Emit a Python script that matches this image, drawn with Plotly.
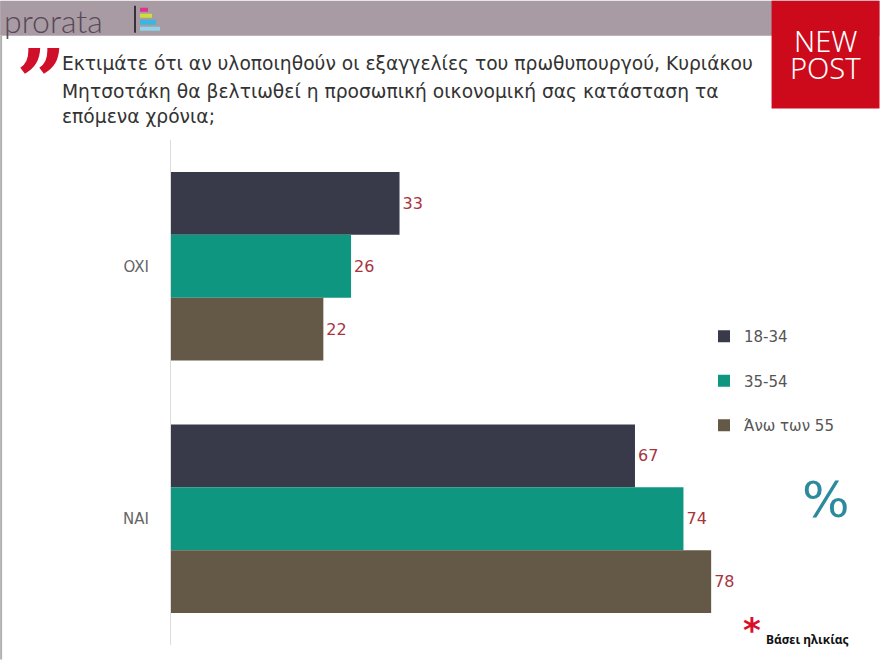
import plotly.graph_objects as go

categories = ["OXI", "NAI"]
series_names = ["18-34", "35-54", "Άνω των 55"]
values_18_34 = [33, 67]
values_35_54 = [26, 74]
values_55 = [22, 78]
series_values = [values_18_34, values_35_54, values_55]
colors = ["#383a4a", "#0e9680", "#645847"]

title_lines = [
    "Εκτιμάτε ότι αν υλοποιηθούν οι εξαγγελίες του πρωθυπουργού, Κυριάκου",
    "Μητσοτάκη θα βελτιωθεί η προσωπική οικονομική σας κατάσταση τα",
    "επόμενα χρόνια;",
]

W, H = 880, 660
L, R, T, B = 171, 725.4, 139.5, 645.5


def fx(px):
    return (px - L) / (R - L)


def fy(py):
    return (B - py) / (B - T)


fig = go.Figure()
for name, vals, col in zip(series_names, series_values, colors):
    fig.add_trace(go.Bar(
        y=categories, x=vals, name=name, orientation="h",
        marker=dict(color=col, line=dict(width=0)),
        text=vals, textposition="outside",
        textfont=dict(color="#a8343e", size=16, family="DejaVu Sans"),
        legendgroup=name, cliponaxis=False,
    ))

shapes = [
    dict(type="rect", xref="paper", yref="paper", x0=fx(0), x1=fx(880), y0=fy(0), y1=fy(35),
         fillcolor="#a99ba3", line=dict(width=0), layer="below"),
    dict(type="rect", xref="paper", yref="paper", x0=fx(772), x1=fx(880), y0=fy(0), y1=fy(108),
         fillcolor="#cc0a1c", line=dict(width=0), layer="above"),
    dict(type="line", xref="paper", yref="paper", x0=fx(1), x1=fx(1), y0=fy(35), y1=fy(660),
         line=dict(color="#b0b0b0", width=2)),
    dict(type="rect", xref="paper", yref="paper", x0=fx(134), x1=fx(136), y0=fy(5), y1=fy(32),
         fillcolor="#3a3038", line=dict(width=0)),
    dict(type="rect", xref="paper", yref="paper", x0=fx(140), x1=fx(148), y0=fy(7), y1=fy(11),
         fillcolor="#e0338f", line=dict(width=0)),
    dict(type="rect", xref="paper", yref="paper", x0=fx(140), x1=fx(152), y0=fy(13), y1=fy(17),
         fillcolor="#cfdc3a", line=dict(width=0)),
    dict(type="rect", xref="paper", yref="paper", x0=fx(140), x1=fx(156), y0=fy(19), y1=fy(24),
         fillcolor="#3ab7e0", line=dict(width=0)),
    dict(type="rect", xref="paper", yref="paper", x0=fx(140), x1=fx(160), y0=fy(26), y1=fy(30),
         fillcolor="#8fd3ea", line=dict(width=0)),
]

ann = []
ann.append(dict(text="prorata", x=fx(2), y=fy(20), xref="paper", yref="paper", xanchor="left",
                yanchor="middle", showarrow=False,
                font=dict(family="Lato", size=32, color="#574858", weight=300)))
ann.append(dict(text="NEW", x=fx(826), y=fy(40), xref="paper", yref="paper", xanchor="center",
                yanchor="middle", showarrow=False,
                font=dict(family="Noto Sans", size=29, color="white", weight=300)))
ann.append(dict(text="POST", x=fx(826), y=fy(67), xref="paper", yref="paper", xanchor="center",
                yanchor="middle", showarrow=False,
                font=dict(family="Noto Sans", size=29, color="white", weight=300)))
for qx in (14, 33):
    ann.append(dict(text="<b>’</b>", x=fx(qx), y=fy(26), xref="paper", yref="paper",
                    xanchor="left", yanchor="top", showarrow=False,
                    font=dict(family="DejaVu Serif", size=90, color="#d0102a")))
line_y = [63, 91, 116]
for txt, ly in zip(title_lines, line_y):
    ann.append(dict(text=txt, x=fx(60), y=fy(ly), xref="paper", yref="paper", xanchor="left",
                    yanchor="middle", showarrow=False,
                    font=dict(family="DejaVu Sans", size=18.7, color="#333333")))
ann.append(dict(text="%", x=fx(826), y=fy(500), xref="paper", yref="paper", xanchor="center",
                yanchor="middle", showarrow=False,
                font=dict(family="DejaVu Sans", size=50, color="#2b8a9e")))
ann.append(dict(text="<b>*</b>", x=fx(752), y=fy(630), xref="paper", yref="paper", xanchor="center",
                yanchor="middle", showarrow=False,
                font=dict(family="DejaVu Sans", size=34, color="#d8102a")))
ann.append(dict(text="<b>Βάσει ηλικίας</b>", x=fx(764), y=fy(640), xref="paper", yref="paper",
                xanchor="left", yanchor="middle", showarrow=False,
                font=dict(family="Noto Sans", size=12, color="#111111")))

fig.update_layout(
    width=W, height=H,
    margin=dict(l=L, r=W - R, t=T, b=H - B, pad=0, autoexpand=False),
    paper_bgcolor="white", plot_bgcolor="white",
    barmode="group", bargap=0.253, bargroupgap=0,
    xaxis=dict(range=[0, 80], visible=False, fixedrange=True),
    yaxis=dict(categoryorder="array", categoryarray=categories, autorange="reversed",
               showline=True, linecolor="#dcdcdc", linewidth=1, showgrid=False,
               ticks="", ticklabelstandoff=18,
               tickfont=dict(family="DejaVu Sans", size=15, color="#666666")),
    showlegend=True,
    legend=dict(xref="container", yref="container", x=704 / W, y=1 - 320 / H,
                xanchor="left", yanchor="top", tracegroupgap=22,
                font=dict(family="DejaVu Sans", size=15, color="#555555"),
                bgcolor="rgba(0,0,0,0)"),
    shapes=shapes, annotations=ann,
)

fig.write_html("out.html", config={"displayModeBar": False},
               post_script="document.body.style.margin='0px';")
